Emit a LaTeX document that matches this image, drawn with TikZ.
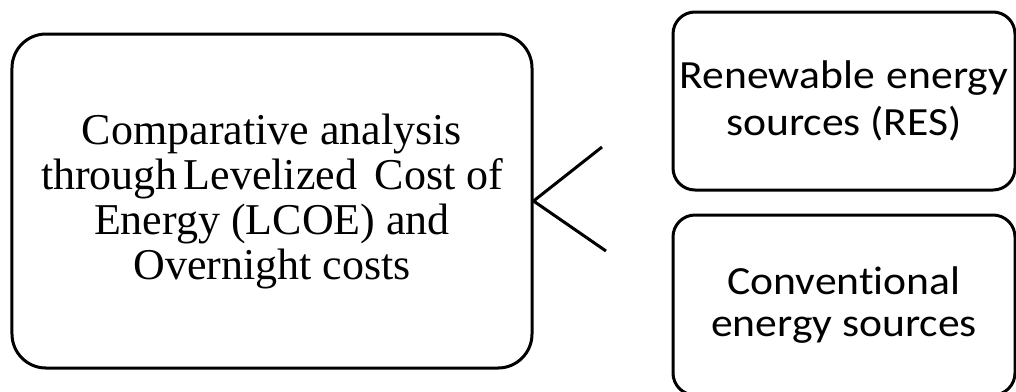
\documentclass[tikz,border=0pt]{standalone}
\usepackage{fontspec}
\setmainfont{Liberation Serif}
\newfontfamily\calibri[Ligatures=NoCommon,FakeStretch=1.09]{Carlito}
\begin{document}
\begin{tikzpicture}[x=1bp,y=-1bp,
  box/.style={draw=black,line width=3bp,rectangle,align=center,inner sep=0pt},
  link/.style={draw=black,line width=3bp}]
\clip (0,0) rectangle (1016,391);
\useasboundingbox (0,0) rectangle (1016,391);
\node[box,rounded corners=34bp,minimum width=520bp,minimum height=334bp,
  font=\fontsize{44bp}{45bp}\selectfont] (L) at (272,201)
  {Comparative analysis\\through\hspace{-0.12em} Levelized\hspace{0.15em} Cost of\\Energy (LCOE) and\\Overnight costs};
\node[box,rounded corners=22bp,minimum width=342bp,minimum height=178bp,
  font=\calibri\fontsize{40bp}{47bp}\selectfont] (R) at (844,101)
  {Renewable\hspace{0.05em} energy\\sources (RES)};
\node[box,rounded corners=22bp,minimum width=342bp,minimum height=180bp,
  font=\calibri\fontsize{40bp}{42bp}\selectfont] (C) at (844,305)
  {Conventional\\energy sources};
\coordinate (t1) at (602,147);
\coordinate (t2) at (606,251);
\draw[link] (L.east) -- (t1);
\draw[link] (L.east) -- (t2);
\end{tikzpicture}
\end{document}
